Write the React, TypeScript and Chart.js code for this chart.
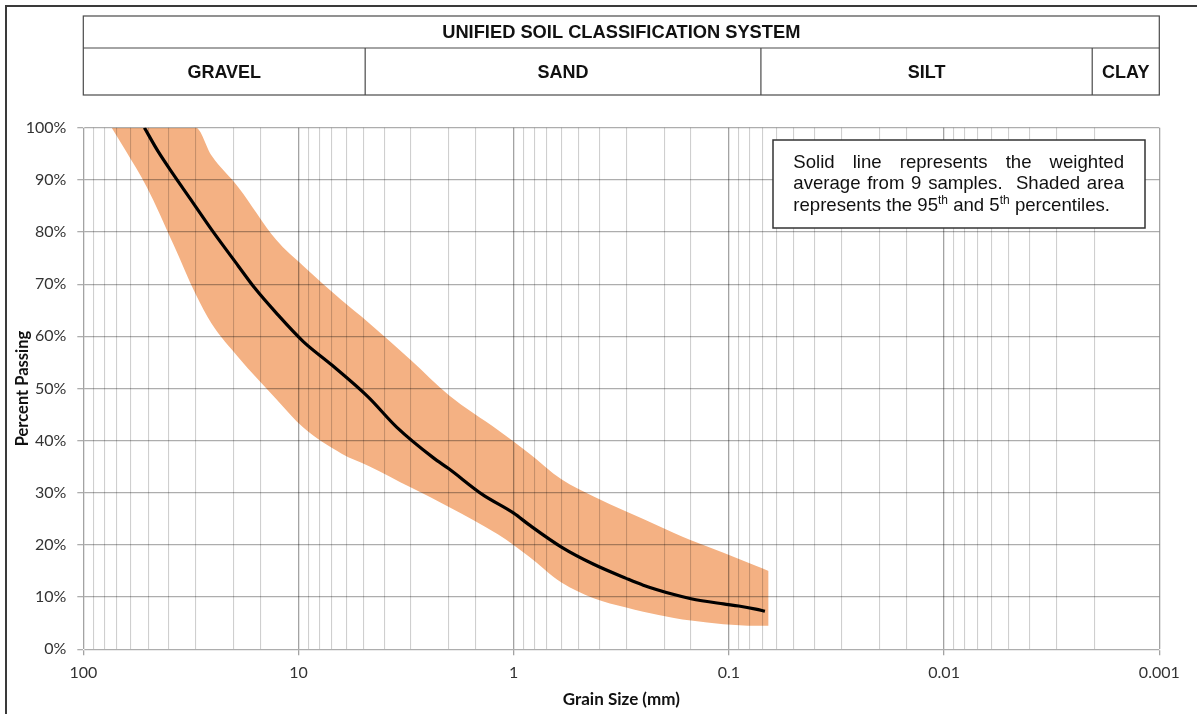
import React, { useEffect, useRef } from 'react';
import { Chart, registerables } from 'chart.js';

Chart.register(...registerables);

const W = 1197;
const H = 714;

// ---- data -------------------------------------------------------------
const xTickValues = [100, 10, 1, 0.1, 0.01, 0.001];
const xTickLabels = ['100', '10', '1', '0.1', '0.01', '0.001'];
const yTickLabels = ['0%', '10%', '20%', '30%', '40%', '50%', '60%', '70%', '80%', '90%', '100%'];

// weighted average gradation (grain size mm, % passing)
const meanSizes = [52, 45, 38.1, 32, 25.4, 19.05, 16, 12.7, 9.5, 7, 4.75, 3.5, 2.36, 2, 1.4, 1, 0.85, 0.6, 0.425, 0.3, 0.25, 0.18, 0.15, 0.106, 0.09, 0.075, 0.068];
const meanPassing = [100, 95.5, 91, 86.5, 80.5, 73.5, 69.3, 64.5, 59, 54.5, 48.4, 42.6, 36.7, 34.6, 29.7, 26.1, 23.9, 19.6, 16.3, 13.6, 12.3, 10.5, 9.7, 8.7, 8.3, 7.7, 7.3];

// 95th / 5th percentile envelope
const bandSizes = [73.8, 63.5, 50.8, 38.1, 30, 25.4, 19.05, 12.7, 9.5, 6.3, 4.75, 3, 2, 1.18, 0.85, 0.6, 0.425, 0.3, 0.25, 0.18, 0.15, 0.106, 0.075, 0.0654];
const upper95 = [100, 100, 100, 100, 100, 94.7, 88.6, 78.5, 73.5, 66.9, 62.7, 55.4, 48.7, 42.0, 37.6, 32.6, 29.3, 26.4, 25.0, 22.3, 20.9, 18.5, 16.0, 15.0];
const lower5 = [100, 95.6, 88.7, 77.6, 68, 62.5, 56, 48, 42.5, 37.5, 35.2, 31, 27.3, 22, 17.8, 12.8, 9.8, 8.0, 7.2, 6.0, 5.5, 4.8, 4.5, 4.5];

// Unified Soil Classification System header
const headerTitle = 'UNIFIED SOIL CLASSIFICATION SYSTEM';
const soilClasses = ['GRAVEL', 'SAND', 'SILT', 'CLAY'];
const classBoundaries = [4.9, 0.071, 0.00205];

const noteLines = ['Solid line represents the weighted', 'average from 9 samples.  Shaded area'];
const noteLast = [
  { t: 'represents the 95', sup: false },
  { t: 'th', sup: true },
  { t: ' and 5', sup: false },
  { t: 'th', sup: true },
  { t: ' percentiles.', sup: false },
];

// ---- helpers ----------------------------------------------------------
const isDecade = (v: number) => Math.abs(Math.log10(v) - Math.round(Math.log10(v))) < 1e-6;
const ARIAL = '"Liberation Sans", Arial, sans-serif';
const TICKFONT = 'Lato, "Open Sans", sans-serif';

function drawJustified(ctx: CanvasRenderingContext2D, text: string, x0: number, x1: number, y: number) {
  const words = text.split(' ');
  const widths = words.map((w) => ctx.measureText(w).width);
  const total = widths.reduce((a, b) => a + b, 0);
  const gap = (x1 - x0 - total) / (words.length - 1);
  let x = x0;
  words.forEach((w, i) => {
    if (w) ctx.fillText(w, x, y);
    x += widths[i] + gap;
  });
}

const overlayPlugin = {
  id: 'overlay',
  afterDraw(chart: any) {
    const ctx: CanvasRenderingContext2D = chart.ctx;
    const { left, right } = chart.chartArea;
    const xs = chart.scales.x;
    ctx.save();

    // clean page margin
    ctx.fillStyle = '#fff';
    ctx.fillRect(0, 0, W, 5);
    ctx.fillRect(0, 0, 5, H);

    // page frame
    ctx.strokeStyle = '#3a3a3a';
    ctx.lineWidth = 2;
    ctx.beginPath();
    ctx.moveTo(6, H);
    ctx.lineTo(6, 6);
    ctx.lineTo(W, 6);
    ctx.stroke();

    // header table
    const top = 16, mid = 48, bot = 95;
    ctx.strokeStyle = '#4a4a4a';
    ctx.lineWidth = 1.2;
    ctx.strokeRect(left, top, right - left, bot - top);
    ctx.beginPath();
    ctx.moveTo(left, mid);
    ctx.lineTo(right, mid);
    const edges = [left, ...classBoundaries.map((b) => xs.getPixelForValue(b)), right];
    edges.slice(1, -1).forEach((px) => {
      ctx.moveTo(px, mid);
      ctx.lineTo(px, bot);
    });
    ctx.stroke();

    ctx.fillStyle = '#111';
    ctx.font = `bold 18.3px ${ARIAL}`;
    ctx.textAlign = 'center';
    ctx.textBaseline = 'alphabetic';
    ctx.fillText(headerTitle, (left + right) / 2, 37.5);
    ctx.font = `bold 18px ${ARIAL}`;
    soilClasses.forEach((c, i) => {
      ctx.fillText(c, (edges[i] + edges[i + 1]) / 2, 78.3);
    });

    // note box
    const bx = 773, by = 140, bw = 372, bh = 88;
    ctx.fillStyle = '#fff';
    ctx.fillRect(bx, by, bw, bh);
    ctx.strokeStyle = '#333';
    ctx.lineWidth = 1.5;
    ctx.strokeRect(bx, by, bw, bh);

    ctx.fillStyle = '#111';
    ctx.textAlign = 'left';
    ctx.font = `18.6px ${ARIAL}`;
    const tx0 = 793.3, tx1 = 1124;
    const baselines = [167.7, 189.3, 211];
    noteLines.forEach((l, i) => drawJustified(ctx, l, tx0, tx1, baselines[i]));
    let x = tx0;
    noteLast.forEach((s) => {
      ctx.font = s.sup ? `12px ${ARIAL}` : `18.6px ${ARIAL}`;
      ctx.fillText(s.t, x, s.sup ? baselines[2] - 7 : baselines[2]);
      x += ctx.measureText(s.t).width;
    });

    ctx.restore();
  },
};

export default function App() {
  const ref = useRef<HTMLCanvasElement>(null);

  useEffect(() => {
    if (!ref.current) return;
    const chart = new Chart(ref.current, {
      type: 'line',
      data: {
        datasets: [
          {
            label: 'Weighted average',
            data: meanSizes.map((s, i) => ({ x: s, y: meanPassing[i] })),
            borderColor: '#000',
            borderWidth: 3.2,
            pointRadius: 0,
            cubicInterpolationMode: 'monotone',
            fill: false,
          },
          {
            label: '95th percentile',
            data: bandSizes.map((s, i) => ({ x: s, y: upper95[i] })),
            borderColor: 'rgba(0,0,0,0)',
            borderWidth: 0,
            pointRadius: 0,
            cubicInterpolationMode: 'monotone',
            backgroundColor: '#F4B183',
            fill: '+1',
          },
          {
            label: '5th percentile',
            data: bandSizes.map((s, i) => ({ x: s, y: lower5[i] })),
            borderColor: 'rgba(0,0,0,0)',
            borderWidth: 0,
            pointRadius: 0,
            cubicInterpolationMode: 'monotone',
            backgroundColor: '#F4B183',
            fill: false,
          },
        ],
      },
      options: {
        responsive: false,
        animation: false,
        devicePixelRatio: 1,
        events: [],
        layout: { padding: { top: 127.7, left: 0, right: 37.7, bottom: 0 } },
        plugins: {
          legend: { display: false },
          tooltip: { enabled: false },
        },
        scales: {
          x: {
            type: 'logarithmic',
            reverse: true,
            min: 0.001,
            max: 100,
            afterFit: (s: any) => {
              s.height = 64.7;
              s.paddingLeft = 0;
              s.paddingRight = 0;
            },
            grid: {
              z: 1,
              color: (c: any) => (isDecade(c.tick.value) ? 'rgba(0,0,0,0.36)' : 'rgba(0,0,0,0.19)'),
              lineWidth: (c: any) => (isDecade(c.tick.value) ? 1.3 : 1.1),
              tickColor: (c: any) => (isDecade(c.tick.value) ? 'rgba(0,0,0,0.36)' : 'rgba(0,0,0,0)'),
              tickLength: 6,
            },
            border: { color: 'rgba(0,0,0,0.36)', width: 1.3 },
            ticks: {
              autoSkip: false,
              maxRotation: 0,
              padding: 8,
              color: '#333',
              font: { family: TICKFONT, size: 16 },
              callback: (v: any) => {
                const idx = xTickValues.findIndex((t) => Math.abs(Math.log10(t) - Math.log10(Number(v))) < 1e-6);
                return idx >= 0 ? xTickLabels[idx] : '';
              },
            },
            title: {
              display: true,
              text: 'Grain Size (mm)',
              color: '#111',
              font: { family: TICKFONT, size: 17, weight: 'bold' },
              padding: { top: 0, bottom: 4 },
            },
          },
          y: {
            min: 0,
            max: 100,
            afterFit: (s: any) => {
              s.width = 83.3;
              s.paddingTop = 0;
              s.paddingBottom = 0;
            },
            grid: {
              z: 1,
              color: 'rgba(0,0,0,0.32)',
              lineWidth: 1.3,
              tickLength: 6,
            },
            border: { color: 'rgba(0,0,0,0.36)', width: 1.3 },
            ticks: {
              stepSize: 10,
              padding: 11,
              color: '#333',
              font: { family: TICKFONT, size: 16 },
              callback: (_v: any, i: number) => yTickLabels[i],
            },
            title: {
              display: true,
              text: 'Percent Passing',
              color: '#111',
              font: { family: TICKFONT, size: 16.5, weight: 'bold' },
              padding: { top: 12.5, bottom: 0 },
            },
          },
        },
      },
      plugins: [overlayPlugin],
    } as any);
    return () => chart.destroy();
  }, []);

  return (
    <div style={{ position: 'fixed', left: 0, top: 0, width: W, height: H, background: '#fff' }}>
      <canvas ref={ref} width={W} height={H} style={{ display: 'block', width: W, height: H }} />
    </div>
  );
}
